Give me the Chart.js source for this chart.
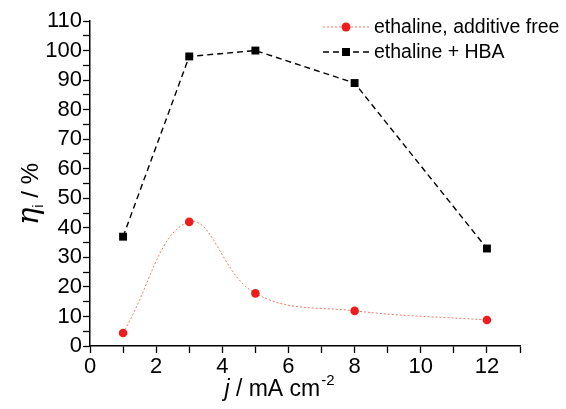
<!DOCTYPE html>
<html>
<head>
<meta charset="utf-8">
<script src="https://cdn.jsdelivr.net/npm/chart.js@4.4.1/dist/chart.umd.min.js"></script>
<style>
  html, body { margin: 0; padding: 0; background: #fff; }
  #wrap { width: 566px; height: 409px; position: relative; }
</style>
</head>
<body>
<div id="wrap"><canvas id="myChart"></canvas></div>
<script>
// data
var currents = [1, 3, 5, 8, 12];
var plainEff = [4.4, 42, 17.8, 11.9, 8.8];
var hbaEff = [37, 98, 100, 89, 33];
var seriesNames = ['ethaline, additive free', 'ethaline + HBA'];
var xTicks = [0, 2, 4, 6, 8, 10, 12];
var yTicks = [0, 10, 20, 30, 40, 50, 60, 70, 80, 90, 100, 110];

var FONT = '"Liberation Sans", Arial, sans-serif';
var red = '#ee1c1c';
var redLine = 'rgba(240,110,80,0.9)';

function pts(ys) {
    return currents.map(function (x, i) { return { x: x, y: ys[i] }; });
}

// axis titles, legend
var extras = {
    id: 'extras',
    afterDraw: function (chart) {
        var c = chart.ctx;
        c.save();
        c.fillStyle = '#000';
        c.textBaseline = 'alphabetic';

        // x title: j / mA cm-2
        var y = 396;
        c.font = 'italic 23px ' + FONT;
        var w1 = c.measureText('j').width;
        c.font = '23px ' + FONT;
        var w2 = c.measureText(' / mA cm').width;
        c.font = '15px ' + FONT;
        var w3 = c.measureText('-2').width;
        var x0 = 279 - (w1 + w2 + w3) / 2;
        c.font = 'italic 23px ' + FONT;
        c.fillText('j', x0, y);
        c.font = '23px ' + FONT;
        c.fillText(' / mA cm', x0 + w1, y);
        c.font = '15px ' + FONT;
        c.fillText('-2', x0 + w1 + w2 + 1, y - 11);

        // y title: eta_i / %
        c.translate(38, 194);
        c.rotate(-Math.PI / 2);
        c.font = 'italic 29px "DejaVu Serif", serif';
        var e1 = c.measureText('\u03b7').width;
        c.font = '15px ' + FONT;
        var e2 = c.measureText('i').width;
        c.font = '24px ' + FONT;
        var e3 = c.measureText(' / %').width;
        var s = -(e1 + e2 + e3) / 2;
        c.font = 'italic 29px "DejaVu Serif", serif';
        c.fillText('\u03b7', s, 0);
        c.font = '15px ' + FONT;
        c.fillText('i', s + e1, 5);
        c.font = '24px ' + FONT;
        c.fillText(' / %', s + e1 + e2, 0);
        c.restore();

        // legend
        c.save();
        var rows = [27, 52];
        chart.data.datasets.forEach(function (ds, i) {
            var ly = rows[i];
            c.strokeStyle = ds.borderColor;
            c.lineWidth = ds.borderWidth;
            c.setLineDash(ds.borderDash);
            c.beginPath();
            c.moveTo(323, ly);
            c.lineTo(369, ly);
            c.stroke();
            c.setLineDash([]);
            c.fillStyle = ds.pointBackgroundColor;
            if (ds.pointStyle === 'rect') {
                c.fillRect(346 - 4, ly - 4, 8, 8);
            } else {
                c.beginPath();
                c.arc(346, ly, 4.5, 0, Math.PI * 2);
                c.fill();
            }
            c.fillStyle = '#000';
            c.font = '19.5px ' + FONT;
            c.textBaseline = 'middle';
            c.fillText(ds.label, 374, ly + 1);
        });
        c.restore();
    }
};

var ctx = document.getElementById('myChart').getContext('2d');
var chart1 = new Chart(ctx, {
    type: 'line',
    data: {
        datasets: [{
            label: seriesNames[0],
            data: pts(plainEff),
            borderColor: redLine,
            borderWidth: 1,
            borderDash: [2, 2],
            pointStyle: 'circle',
            pointRadius: 4.3,
            pointBackgroundColor: red,
            pointBorderWidth: 0,
            tension: 0.4,
            cubicInterpolationMode: 'default'
        }, {
            label: seriesNames[1],
            data: pts(hbaEff),
            borderColor: '#000',
            borderWidth: 1.4,
            borderDash: [6, 4],
            pointStyle: 'rect',
            pointRadius: 5.6,
            pointBackgroundColor: '#000',
            pointBorderWidth: 0,
            tension: 0
        }]
    },
    options: {
        responsive: true,
        maintainAspectRatio: false,
        animation: false,
        layout: { padding: { top: 21, right: 46, left: 0, bottom: 0 } },
        plugins: {
            legend: { display: false },
            tooltip: { enabled: false }
        },
        scales: {
            x: {
                type: 'linear',
                min: 0,
                max: 13,
                afterFit: function (s) { s.height = 63; },
                ticks: {
                    stepSize: 1,
                    autoSkip: false,
                    maxRotation: 0,
                    color: '#000',
                    padding: 1,
                    font: { family: FONT, size: 22 },
                    callback: function (v) { return xTicks.indexOf(v) >= 0 ? String(v) : ''; }
                },
                grid: { drawOnChartArea: false, tickLength: 7, color: '#000', tickWidth: 1.3 },
                border: { color: '#000', width: 1.5 }
            },
            y: {
                min: 0,
                max: 110,
                afterFit: function (s) { s.width = 90; },
                ticks: {
                    stepSize: 5,
                    autoSkip: false,
                    color: '#000',
                    padding: 1,
                    font: { family: FONT, size: 22 },
                    callback: function (v) { return yTicks.indexOf(v) >= 0 ? String(v) : ''; }
                },
                grid: {
                    drawOnChartArea: false,
                    color: '#000',
                    tickWidth: 1.3,
                    tickLength: 7
                },
                border: { color: '#000', width: 1.5 }
            }
        }
    },
    plugins: [extras]
});
</script>
</body>
</html>
